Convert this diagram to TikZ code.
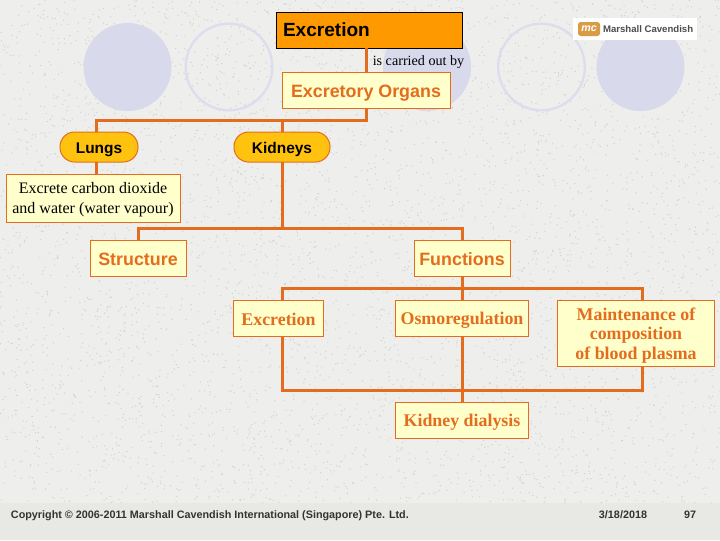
\documentclass[tikz,border=0pt]{standalone}
\usepackage{xcolor}
\usepackage{fontspec}
\setmainfont{Liberation Serif}
\setsansfont{Liberation Sans}
\usetikzlibrary{positioning}
\definecolor{slideorange}{RGB}{228,108,30}
\definecolor{slidecream}{RGB}{255,255,204}
\definecolor{slidegold}{RGB}{255,194,14}
\definecolor{slidelilac}{RGB}{217,217,236}
\definecolor{slidepaper}{RGB}{238,238,236}
\definecolor{slidefoot}{RGB}{232,233,228}
\definecolor{logotan}{RGB}{217,155,70}
\newcommand{\sansbold}[1]{\sffamily\bfseries\fontsize{#1}{#1}\selectfont}
\newcommand{\serifsize}[2]{\rmfamily\fontsize{#1}{#2}\selectfont}

\begin{document}
\begin{tikzpicture}[
    x=0.75pt, y=-0.75pt,
    every node/.style={outer sep=0pt, inner sep=0pt},
    sansbox/.style={rectangle, draw=slideorange, line width=0.75pt, fill=slidecream, minimum width=72pt, minimum height=27pt, align=center, text=slideorange, text height=13.5pt, text depth=3pt, font=\sansbold{13.4}},
    seribox/.style={rectangle, draw=slideorange, line width=0.75pt, fill=slidecream, minimum height=27pt, align=center, text=slideorange, font=\bfseries\serifsize{13.4}{14.6}},
    pill/.style={rectangle, rounded corners=11pt, draw=slideorange, line width=0.75pt, fill=slidegold, minimum height=22.5pt, text height=12pt, text depth=3pt, font=\sansbold{11.6}},
    link/.style={draw=slideorange, line width=2.25pt},
    disc/.style={circle, fill=slidelilac, minimum size=66pt},
    ring/.style={circle, draw=slidelilac!90, line width=1.75pt, minimum size=65pt},
    footnote/.style={anchor=base, text=black!80, font=\sansbold{8.1}}
]
    \useasboundingbox (0,0) rectangle (720,540);
    \fill[slidepaper] (0,0) rectangle (720,503);
    \fill[slidefoot] (0,503) rectangle (720,540);
    % paper grain
    \pgfmathsetseed{7}
    \foreach \i in {1,...,5000} {
        \fill[black!18] ({720*rnd},{503*rnd}) circle (0.7);
    }

    \node[disc] (disc1) at (127.5,67) {};
    \node[ring] (ring1) at (229,67) {};
    \node[disc] (disc2) at (427,67) {};
    \node[ring] (ring2) at (541.5,67) {};
    \node[disc] (disc3) at (640.5,67) {};

    \node[fill=white, minimum width=93pt, minimum height=16.5pt] (logobox) at (635,29) {};
    \node[fill=logotan, rounded corners=2pt, minimum width=16.5pt, minimum height=10.5pt, text=white, font=\sansbold{8}\itshape] (logotag) at (589,29) {mc};
    \node[right=2.25pt of logotag, text=black!70, font=\sansbold{7.2}] (logotext) {Marshall Cavendish};

    \node[rectangle, draw=black, line width=0.75pt, fill=orange!80!yellow, inner xsep=5.25pt, text width=129pt, minimum height=27pt, align=left, font=\sansbold{14.3}] (title) at (369,30) {Excretion};
    \node[font=\serifsize{10.6}{12}] (carried) at (418.5,62) {is carried out by};
    \node[sansbox, minimum width=126pt] (organs) at (366,90) {Excretory Organs};

    \node[pill, minimum width=58.5pt] (lungs) at (99,147) {Lungs};
    \node[pill, minimum width=72pt, right=72pt of lungs] (kidneys) {Kidneys};
    \node[rectangle, draw=slideorange, line width=0.75pt, fill=slidecream, minimum width=130.5pt, minimum height=36pt, align=center, font=\serifsize{12}{15}, below=9pt of lungs, xshift=-4.5pt] (excrete) {\rule{0pt}{11pt}Excrete carbon dioxide\\and water (water vapour)};

    \node[sansbox] (structure) at (138,258) {Structure};
    \node[sansbox, right=171pt of structure] (functions) {Functions};
    \node[seribox, minimum width=99.75pt, below=18pt of functions] (osmo) {\rule[-2.5pt]{0pt}{15.5pt}Osmoregulation};
    \node[seribox, minimum width=67.5pt, left=54pt of osmo] (excfunc) {\rule[-2.5pt]{0pt}{15.5pt}Excretion};
    \node[seribox, minimum width=117.75pt, minimum height=49.5pt, below right=0pt and 21.75pt of osmo.north east] (plasma) {\rule{0pt}{13pt}Maintenance of\\composition\\of blood plasma};
    \node[seribox, minimum width=99.75pt, below=49.5pt of osmo] (dialysis) {\rule[-2.5pt]{0pt}{15.5pt}Kidney dialysis};

    \coordinate (busA) at (366,120);
    \coordinate (busB) at (282,228);
    \coordinate (busC) at (462,288.5);
    \coordinate (busD) at (462,390);
    \coordinate (lungsdrop) at (96,132);
    \coordinate (plasmadrop) at (642.5,300);

    \draw[link] (organs.north -| busA) -- (title.south -| busA);
    \draw[link] (organs.south -| busA) -- (busA) -| (lungsdrop);
    \draw[link] (busA -| kidneys.north) -- (kidneys.north);
    \draw[link] (lungs.south -| lungsdrop) -- (excrete.north -| lungsdrop);
    \draw[link] (kidneys.south) -- (busB);
    \draw[link] (structure.north) |- (busB) -| (functions.north);
    \draw[link] (functions.south) -- (osmo.north);
    \draw[link] (excfunc.north -| busB) |- (busC) -| (plasmadrop);
    \draw[link] (excfunc.south -| busB) |- (busD) -| (plasma.south -| plasmadrop);
    \draw[link] (osmo.south) -- (dialysis.north);

    \node[footnote, anchor=base west] (copyright) at (11,518) {Copyright © 2006-2011 Marshall Cavendish International (Singapore) Pte. Ltd.};
    \node[footnote] (slidedate) at (623,518) {3/18/2018};
    \node[footnote] (slidenum) at (690,518) {97};
\end{tikzpicture}
\end{document}
